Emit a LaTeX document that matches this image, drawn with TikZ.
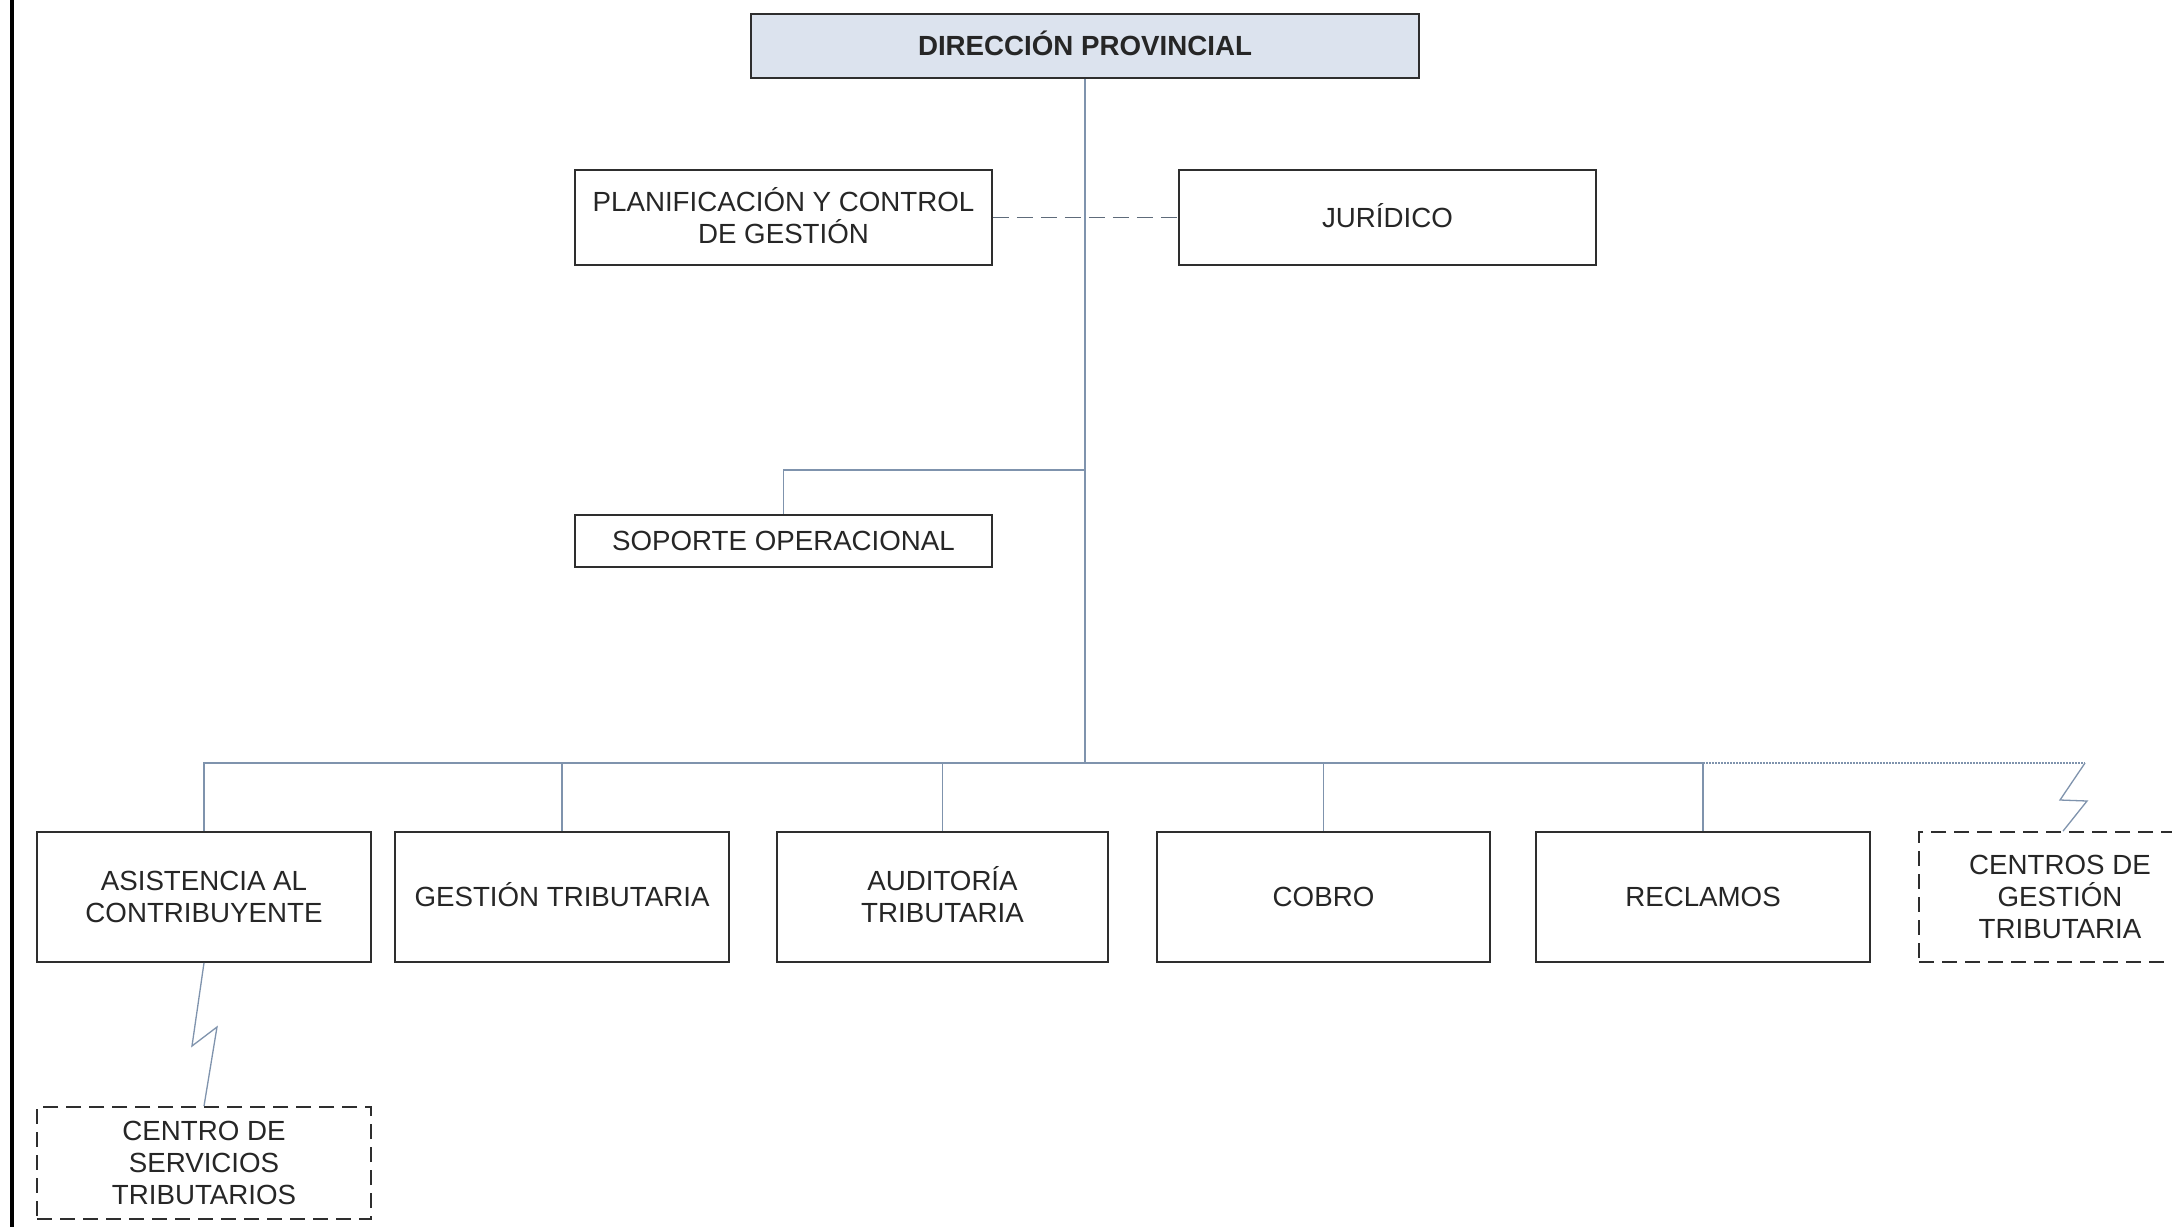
\documentclass[tikz,border=0pt]{standalone}
\usepackage{fontspec}
\setmainfont{Liberation Sans}
\newcommand{\acc}[1]{\smash{#1}}
\begin{document}
\begin{tikzpicture}[x=1pt,y=-1pt,
  box/.style={draw=boxline, line width=1.8pt, rectangle, align=center, inner sep=0pt,
    text=txt, font=\fontsize{27.7}{32}\selectfont},
  dbox/.style={box, dash pattern=on 15pt off 8pt},
  conn/.style={draw=connc, line width=1.6pt},
  dotconn/.style={draw=connc, line width=1.1pt, dash pattern=on 1.5pt off 1.5pt},
  dconn/.style={draw=dashc, line width=1.6pt, dash pattern=on 16pt off 8pt}]
\definecolor{boxline}{HTML}{2E2E2E}
\definecolor{txt}{HTML}{262626}
\definecolor{connc}{HTML}{7F93AD}
\definecolor{dashc}{HTML}{5E6B7A}
\definecolor{topfill}{HTML}{DCE3EE}
\useasboundingbox (0,0) rectangle (2172,1227);
\fill[white] (0,0) rectangle (2172,1227);
\begin{scope}
\clip (0,0) rectangle (2172,1227);
\draw[line width=4pt, black] (12,0) -- (12,1227);

\node[box, fill=topfill, minimum width=668pt, minimum height=64pt,
  font=\fontsize{27.7}{32}\selectfont\bfseries] (dir) at (1085,46) {DIRECCI\acc{Ó}N PROVINCIAL};
\node[box, minimum width=417pt, minimum height=95pt] (plan) at (783.5,217.5) {PLANIFICACI\acc{Ó}N Y CONTROL\\DE GESTIÓN};
\node[box, minimum width=417pt, minimum height=95pt] (jur) at (1387.5,217.5) {JUR\acc{Í}DICO};
\node[box, minimum width=417pt, minimum height=52pt] (sop) at (783.5,541) {SOPORTE OPERACIONAL};

\node[box, minimum width=334pt, minimum height=130pt] (asis) at (204,897) {ASISTENCIA AL\\CONTRIBUYENTE};
\node[box, minimum width=334pt, minimum height=130pt] (gest) at (562,897) {GESTI\acc{Ó}N TRIBUTARIA};
\node[box, minimum width=331pt, minimum height=130pt] (aud) at (942.5,897) {AUDITOR\acc{Í}A\\TRIBUTARIA};
\node[box, minimum width=333pt, minimum height=130pt] (cob) at (1323.5,897) {COBRO};
\node[box, minimum width=334pt, minimum height=130pt] (rec) at (1703,897) {RECLAMOS};
\node[dbox, minimum width=282pt, minimum height=130pt] (cgt) at (2060,897) {CENTROS DE\\GESTIÓN\\TRIBUTARIA};
\node[dbox, minimum width=334pt, minimum height=112pt] (cst) at (204,1163) {CENTRO DE\\SERVICIOS\\TRIBUTARIOS};

\coordinate (bus) at (1085,763);
\coordinate (sopj) at (1085,470);
\coordinate (lt1) at (2085,763);
\coordinate (lt2) at (2060,800);
\coordinate (lt3) at (2087,801);
\coordinate (ls2) at (192,1046);
\coordinate (ls3) at (217,1027);

\draw[conn] (dir.south) -- (bus);
\draw[dconn] (plan.east) -- (jur.west);
\draw[conn] (sopj) -| (sop.north);
\draw[conn] (asis.north) |- (bus);
\draw[conn] (rec.north) |- (bus);
\draw[conn] (gest.north) -- (gest.north |- bus);
\draw[conn] (aud.north) -- (aud.north |- bus);
\draw[conn] (cob.north) -- (cob.north |- bus);
\draw[dotconn] (rec.north |- bus) -- (lt1);
\draw[connc, line width=1.3pt, line join=miter] (lt1) -- (lt2) -- (lt3) -- ([xshift=3pt]cgt.north);
\draw[connc, line width=1.3pt, line join=miter] (asis.south) -- (ls2) -- (ls3) -- (cst.north);
\end{scope}
\end{tikzpicture}
\end{document}
